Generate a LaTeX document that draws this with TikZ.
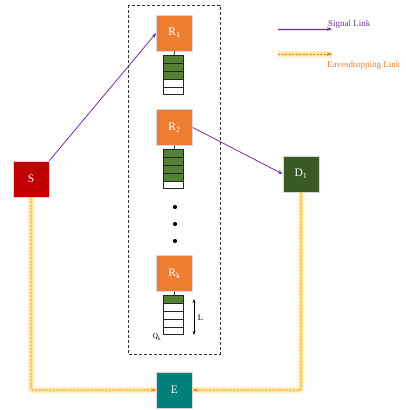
\documentclass[tikz,border=0pt]{standalone}
\usepackage{fontspec}
\setmainfont{Liberation Serif}
\usetikzlibrary{arrows.meta,calc}
\definecolor{orng}{HTML}{ED7D31}
\definecolor{dred}{HTML}{C00000}
\definecolor{dgreen}{HTML}{3A5A24}
\definecolor{qgreen}{HTML}{548235}
\definecolor{teal2}{HTML}{00807A}
\definecolor{purp}{HTML}{7030A0}
\definecolor{glow}{HTML}{FFD24D}
\tikzset{
  box/.style={minimum width=36pt, minimum height=36pt, inner sep=0pt, draw=gray!30, line width=0.6pt, text=white, font=\fontsize{11.5}{12}\selectfont},
  queuebox/.style={minimum width=20pt, minimum height=39pt, inner sep=0pt},
  qcell/.style={draw=black!85, line width=0.8pt},
  sig/.style={draw=purp, line width=0.8pt, -{Stealth[length=5pt,width=3.5pt]}},
  eav/.style={draw=orng, line width=0.7pt, dashed, dash pattern=on 2pt off 1.5pt, rounded corners=2pt,
    -{Stealth[length=5pt,width=3.5pt]},
    preaction={draw=glow, arrows=-, solid, line width=7pt, opacity=0.25},
    preaction={draw=glow, arrows=-, solid, line width=3.5pt, opacity=0.45}},
  legtext/.style={font=\fontsize{9}{10}\selectfont, anchor=base west, inner sep=0pt},
  dotn/.style={circle, fill=black, inner sep=0pt, minimum size=4.2pt}
}
\newcommand\qcells[2]{%
  \foreach \i in {0,...,4}{%
    \ifnum\i<#2\relax\def\qf{qgreen}\else\def\qf{white}\fi
    \draw[qcell,fill=\qf] ($(#1.north west)+(0,-\i*7.8)$) rectangle ++(20,-7.8);
  }}
\begin{document}
\begin{tikzpicture}[x=1pt,y=1pt]
\useasboundingbox (0,0) rectangle (405,-410);
% dashed relay box
\draw[black!80, line width=0.8pt, dash pattern=on 3pt off 2pt] (128,-5) rectangle (220,-354);
% nodes
\node[box, fill=orng] (R1) at (174.5,-33) {R\textsubscript{1}};
\node[box, fill=orng] (R2) at (174.5,-127.5) {R\textsubscript{2}};
\node[box, fill=orng] (Rk) at (174.5,-273.5) {R\textsubscript{k}};
\node[box, fill=dred] (S) at (31,-179) {S};
\node[box, fill=dgreen] (D1) at (301,-174) {D\textsubscript{1}};
\node[box, fill=teal2] (E) at (174.5,-390) {E};
% queues
\node[queuebox] (q1) at (174,-75.5) {};
\node[queuebox] (q2) at (174,-169.5) {};
\node[queuebox] (qk) at (174,-315.5) {};
\qcells{q1}{3}
\qcells{q2}{4}
\qcells{qk}{1}
\draw[line width=0.7pt] (R1.south) -- (q1.north);
\draw[line width=0.7pt] (R2.south) -- (q2.north);
\draw[line width=0.7pt] (Rk.south) -- (qk.north);
% dots
\node[dotn] (d1) at (175,-207) {};
\node[dotn] (d2) at (175,-224) {};
\node[dotn] (d3) at (175,-241) {};
% queue labels
\node[font=\fontsize{7.5}{8}\selectfont, inner sep=0pt] (Qk) at (157,-337) {Q\textsubscript{k}};
\coordinate (La) at (194,-299);
\coordinate (Lb) at (194,-335);
\draw[line width=0.7pt, {Stealth[length=4pt,width=3pt]}-{Stealth[length=4pt,width=3pt]}] (La) -- (Lb);
\node[font=\fontsize{8.5}{9}\selectfont, inner sep=0pt] (L) at (200.5,-317.5) {L};
% links
\draw[sig] (S.north east) -- (R1.west);
\draw[sig] (R2.east) -- (D1.west);
\draw[eav] (S.south) |- (E.west);
\draw[eav] (D1.south) |- (E.east);
% legend
\coordinate (s1) at (278,-29);
\coordinate (s2) at (332,-29);
\draw[draw=gray, line width=3pt, opacity=0.2] (s1) -- (s2);
\draw[sig] (s1) -- (s2);
\node[legtext, text=purp] (sl) at (328,-26.5) {Signal Link};
\coordinate (e1) at (278,-54);
\coordinate (e2) at (332,-54);
\draw[eav] (e1) -- (e2);
\node[legtext, text=orng] (el) at (327,-67) {Eavesdropping Link};
\end{tikzpicture}
\end{document}
